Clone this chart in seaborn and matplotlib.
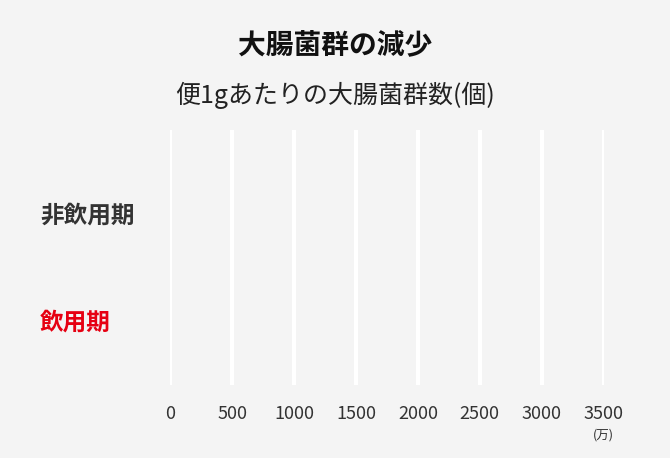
import matplotlib
matplotlib.use("Agg")
import matplotlib.pyplot as plt
import seaborn as sns
import pandas as pd

categories = ["非飲用期", "飲用期"]
values = [0, 0]
ticks = [0, 500, 1000, 1500, 2000, 2500, 3000, 3500]
tick_labels = ["0", "500", "1000", "1500", "2000", "2500", "3000", "3500"]
label_colors = ["#333333", "#e60012"]

sns.set_style("white")
plt.rcParams['font.family'] = ['Noto Sans CJK JP', 'DejaVu Sans']

fig = plt.figure(figsize=(6.7, 4.58), dpi=100, facecolor="#f4f4f4")
ax = fig.add_axes([0.254, 0.159, 0.647, 0.557])
ax.set_facecolor("#f4f4f4")
df = pd.DataFrame({"cat": categories, "val": values})
sns.barplot(data=df, y="cat", x="val", ax=ax, color="#e60012", orient="h")
ax.set_xlim(0, 3500)
ax.set_ylim(1.607, -0.776)
ax.set_xticks(ticks)
ax.set_xticklabels(tick_labels, fontsize=13, color="#333333")
ax.grid(axis="x", color="white", linewidth=3)
ax.set_axisbelow(True)
for s in ax.spines.values():
    s.set_visible(False)
ax.tick_params(axis="x", length=0, pad=14)
ax.tick_params(axis="y", length=0, pad=130 * 0.72)
ax.set_xlabel("")
ax.set_ylabel("")
for lbl, c in zip(ax.get_yticklabels(), label_colors):
    lbl.set_color(c)
    lbl.set_fontsize(17)
    lbl.set_fontweight("bold")
    lbl.set_ha("left")
ax.text(3500, -0.17, "(万)", transform=ax.get_xaxis_transform(), ha="center", va="top", fontsize=9, color="#333333")

fig.text(0.5, 1 - 45 / 458, "大腸菌群の減少", ha="center", va="center", fontsize=20, fontweight="bold", color="#111111")
fig.text(0.5, 1 - 95 / 458, "便1gあたりの大腸菌群数(個)", ha="center", va="center", fontsize=18, color="#222222")
fig.savefig("out.png", dpi=100, facecolor=fig.get_facecolor())
